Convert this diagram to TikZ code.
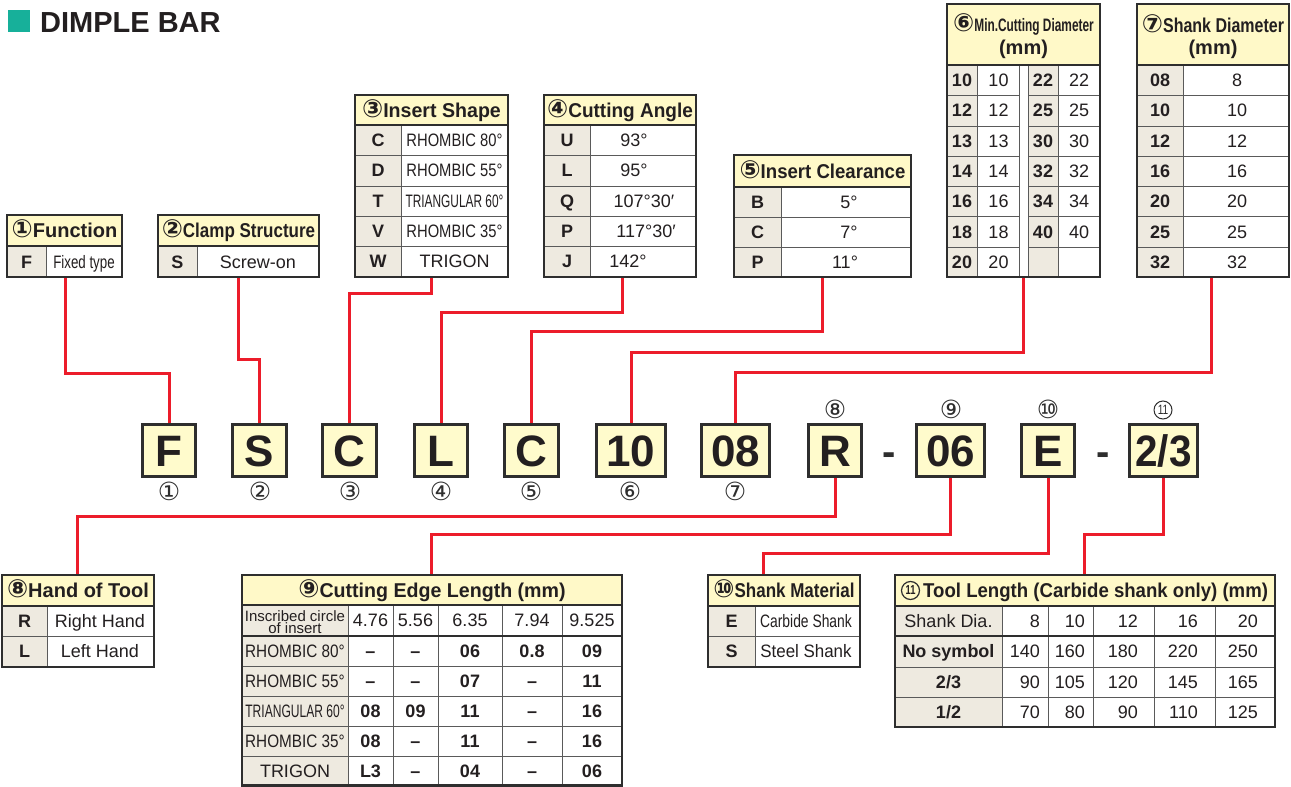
\documentclass[tikz,border=0pt]{standalone}
\usepackage{fontspec}
\usepackage{graphicx}
\setmainfont{Liberation Sans}
\newfontfamily\cn{DejaVu Sans}
\definecolor{hdrY}{HTML}{FFF9C8}
\definecolor{codeG}{HTML}{EEEAE0}
\definecolor{bordC}{HTML}{2E2E2E}
\definecolor{innC}{HTML}{5A5A5A}
\definecolor{lineR}{HTML}{EC1C2A}
\definecolor{boxY}{HTML}{FFFBCC}
\definecolor{titleT}{HTML}{17B09A}
\definecolor{txtC}{HTML}{231F20}
\newcommand\sx[2]{\scalebox{#1}[1]{#2}}
\newcommand\cc[1]{{\cn\fontsize{25}{25}\selectfont #1}}
\tikzset{
  hdrtxt/.style={font=\fontsize{20}{22}\selectfont\bfseries, text height=14.3pt, text depth=0pt},
  hdrsm/.style={font=\fontsize{18}{20}\selectfont\bfseries, text height=13pt, text depth=0pt},
  btxt/.style={font=\fontsize{18}{20}\selectfont\bfseries, text height=12.9pt, text depth=0pt},
  rtxt/.style={font=\fontsize{18}{20}\selectfont, text height=12.9pt, text depth=0pt},
  smtxt/.style={font=\fontsize{15}{15}\selectfont, text height=10.7pt, text depth=0pt},
  codebox/.style={draw=bordC, line width=2pt, fill=boxY, minimum height=51pt,
    font=\fontsize{44}{44}\selectfont\bfseries, text height=31.5pt, text depth=0pt},
  cnum/.style={font=\cn\fontsize{25}{25}\selectfont, text=bordC, text height=16.5pt, text depth=0pt},
  ccirc/.style={draw=bordC, circle, minimum size=16pt, inner sep=0pt},
  conn/.style={draw=lineR, line width=3pt},
  outl/.style={draw=bordC, line width=2.4pt},
  midl/.style={draw=bordC, line width=1.8pt},
  innl/.style={draw=innC, line width=1pt},
}
% x0,y0,x1,y1,yhead,xsplit,{row lines}
\newcommand\tbl[7]{%
  \fill[hdrY] (#1,#2) rectangle (#3,#5);
  \fill[codeG] (#1,#5) rectangle (#6,#4);
  \foreach \yy in {#7} {\draw[innl] (#1,\yy) -- (#3,\yy);}
  \draw[innl] (#6,#5) -- (#6,#4);
  \draw[outl] (#1,#5) -- (#3,#5);
  \draw[outl] (#1,#2) rectangle (#3,#4);
}
\begin{document}
\begin{tikzpicture}[x=1pt,y=-1pt, every node/.style={inner sep=0pt, text=txtC}]
\useasboundingbox (0,0) rectangle (1291,787);
\fill[white] (0,0) rectangle (1291,787);

% title
\fill[titleT] (8,10) rectangle (30,32);
\node[anchor=base west, font=\fontsize{29}{30}\selectfont\bfseries] (title) at (40,32.5) {DIMPLE BAR};

% ---------- connector end points at the tables ----------
\coordinate (t1b) at (65,277);
\coordinate (t2b) at (238.5,277);
\coordinate (t3b) at (431.5,277);
\coordinate (t4b) at (622,277);
\coordinate (t5b) at (822,277);
\coordinate (t6b) at (1023.5,277);
\coordinate (t7b) at (1211,277);
\coordinate (t8t) at (77,575);
\coordinate (t9t) at (431,575);
\coordinate (t10t) at (763.5,575);
\coordinate (t11t) at (1084,575);

% code boxes
\node[codebox, minimum width=52pt] (bF) at (169,450.5) {F};
\node[codebox, minimum width=53pt] (bS) at (259.5,450.5) {S};
\node[codebox, minimum width=53pt] (bC1) at (349.5,450.5) {C};
\node[codebox, minimum width=52pt] (bL) at (441,450.5) {L};
\node[codebox, minimum width=53pt] (bC2) at (531.5,450.5) {C};
\node[codebox, minimum width=68pt] (b10) at (631,450.5) {10};
\node[codebox, minimum width=67pt] (b08) at (735.5,450.5) {08};
\node[codebox, minimum width=52pt] (bR) at (835,450.5) {R};
\node[codebox, minimum width=67pt] (b06) at (950.5,450.5) {06};
\node[codebox, minimum width=52pt] (bE) at (1048,450.5) {E};
\node[codebox, minimum width=67pt] (b23) at (1163.5,450.5) {\sx{0.92}{2/3}};
\node[anchor=base, font=\fontsize{40}{40}\selectfont\bfseries, text=bordC] (dash1) at (889,465) {-};
\node[anchor=base, font=\fontsize{40}{40}\selectfont\bfseries, text=bordC] (dash2) at (1103,465) {-};

% connectors
\draw[conn] (t1b) -- ++(0,96) -| (bF.north);
\draw[conn] (t2b) -- ++(0,82) -| (bS.north);
\draw[conn] (t3b) -- ++(0,16.5) -| (bC1.north);
\draw[conn] (t4b) -- ++(0,35.5) -| (bL.north);
\draw[conn] (t5b) -- ++(0,54) -| (bC2.north);
\draw[conn] (t6b) -- ++(0,75) -| (b10.north);
\draw[conn] (t7b) -- ++(0,95.5) -| (b08.north);
\draw[conn] (bR.south) -- ++(0,39) -| (t8t);
\draw[conn] (b06.south) -- ++(0,57.5) -| (t9t);
\draw[conn] (bE.south) -- ++(0,76) -| (t10t);
\draw[conn] (b23.south) -- ++(0,57.5) -| (t11t);
% box borders on top of connectors
\foreach \b in {bF,bS,bC1,bL,bC2,b10,b08,bR,b06,bE,b23} {\draw[bordC, line width=2pt] (\b.north west) rectangle (\b.south east);}

% circled numbers
\node[cnum] (n1) at (169,492) {①};
\node[cnum] (n2) at (260,492) {②};
\node[cnum] (n3) at (350,492) {③};
\node[cnum] (n4) at (441,492) {④};
\node[cnum] (n5) at (531,492) {⑤};
\node[cnum] (n6) at (630,492) {⑥};
\node[cnum] (n7) at (735,492) {⑦};
\node[cnum] (n8) at (835,410) {⑧};
\node[cnum] (n9) at (951,410) {⑨};
\node[cnum] (n10) at (1048,410) {⑩};
\node[ccirc, line width=1pt, minimum size=18pt, font=\fontsize{13.5}{13.5}\selectfont, text=bordC] (n11) at (1163,410) {\sx{0.75}{11}};

% ---------- table 1 ----------
\tbl{7}{215}{122}{277}{246}{46}{277}
\node[hdrtxt] (h1) at (64.5,230.5) {\cc{①}Function};
\node[btxt] (c1) at (26.5,262) {F};
\node[rtxt] (v1) at (84,262) {\sx{0.74}{Fixed type}};

% ---------- table 2 ----------
\tbl{158}{215}{319}{277}{246}{197}{277}
\node[hdrtxt] (h2) at (238.5,230.5) {\cc{②}\sx{0.85}{Clamp Structure}};
\node[btxt] (c2) at (177.5,262) {S};
\node[rtxt] (v2) at (258,262) {Screw-on};

% ---------- table 3 ----------
\tbl{355}{95}{508}{277}{125}{401}{155,186,216,246}
\node[hdrtxt] (h3) at (431.5,110) {\cc{③}\sx{0.98}{Insert Shape}};
\node[btxt] (c3a) at (378,140) {C};
\node[btxt] (c3b) at (378,170.5) {D};
\node[btxt] (c3c) at (378,201) {T};
\node[btxt] (c3d) at (378,231) {V};
\node[btxt] (c3e) at (378,261.5) {W};
\node[rtxt] (v3a) at (454.5,140) {\sx{0.82}{RHOMBIC 80°}};
\node[rtxt] (v3b) at (454.5,170.5) {\sx{0.82}{RHOMBIC 55°}};
\node[rtxt] (v3c) at (454.5,201) {\sx{0.66}{TRIANGULAR 60°}};
\node[rtxt] (v3d) at (454.5,231) {\sx{0.82}{RHOMBIC 35°}};
\node[rtxt] (v3e) at (454.5,261.5) {TRIGON};

% ---------- table 4 ----------
\tbl{544}{95}{696}{277}{125}{590}{155,186,216,246}
\node[hdrtxt] (h4) at (620,110) {\cc{④}\sx{0.95}{Cutting Angle}};
\node[btxt] (c4a) at (567,140) {U};
\node[btxt] (c4b) at (567,170.5) {L};
\node[btxt] (c4c) at (567,201) {Q};
\node[btxt] (c4d) at (567,231) {P};
\node[btxt] (c4e) at (567,261.5) {J};
\node[rtxt] (v4a) at (634,140) {93°};
\node[rtxt] (v4b) at (634,170.5) {95°};
\node[rtxt] (v4c) at (644,201) {107°30′};
\node[rtxt] (v4d) at (646,231) {117°30′};
\node[rtxt] (v4e) at (628,261.5) {142°};

% ---------- table 5 ----------
\tbl{734}{155}{911}{277}{187}{781}{217,247}
\node[hdrtxt] (h5) at (822.5,171) {\cc{⑤}\sx{0.93}{Insert Clearance}};
\node[btxt] (c5a) at (757.5,202) {B};
\node[btxt] (c5b) at (757.5,232) {C};
\node[btxt] (c5c) at (757.5,262) {P};
\node[rtxt] (v5a) at (849,202) {5°};
\node[rtxt] (v5b) at (849,232) {7°};
\node[rtxt] (v5c) at (845,262) {11°};

% ---------- table 6 ----------
\fill[hdrY] (947,4) rectangle (1100,65);
\fill[codeG] (947,65) rectangle (977.5,277);
\fill[codeG] (1028,65) rectangle (1058,277);
\foreach \yy in {95.5,126,156,186,216,247} {\draw[innl] (947,\yy) -- (1019.5,\yy); \draw[innl] (1028,\yy) -- (1100,\yy);}
\foreach \xx in {977.5,1019.5,1028,1058} {\draw[innl] (\xx,65) -- (\xx,277);}
\draw[outl] (947,65) -- (1100,65);
\draw[outl] (947,4) rectangle (1100,277);
\node[hdrsm] (h6a) at (1023.5,25) {\cc{⑥}\sx{0.66}{Min.Cutting Diameter}};
\node[hdrtxt] (h6b) at (1023.5,47) {(mm)};
\foreach \v/\w [count=\i] in {10/22,12/25,13/30,14/32,16/34,18/40,20/} {
  \pgfmathsetmacro\yc{80+(\i-1)*30.33}
  \node[btxt] (c6l\i) at (962,\yc) {\v};
  \node[rtxt] (v6l\i) at (998.5,\yc) {\v};
  \node[btxt] (c6r\i) at (1043,\yc) {\w};
  \node[rtxt] (v6r\i) at (1079,\yc) {\w};
}

% ---------- table 7 ----------
\tbl{1137}{4}{1289}{277}{65}{1183}{95.5,126,156,186,216,247}
\node[hdrtxt] (h7a) at (1213,25) {\cc{⑦}\sx{0.8}{Shank Diameter}};
\node[hdrtxt] (h7b) at (1213,47) {(mm)};
\foreach \c/\v [count=\i] in {08/8,10/10,12/12,16/16,20/20,25/25,32/32} {
  \pgfmathsetmacro\yc{80+(\i-1)*30.33}
  \node[btxt] (c7\i) at (1160,\yc) {\c};
  \node[rtxt] (v7\i) at (1237,\yc) {\v};
}

% ---------- table 8 ----------
\tbl{2}{575}{154}{667}{606}{47}{636}
\node[hdrtxt] (h8) at (78,590.5) {\cc{⑧}Hand of Tool};
\node[btxt] (c8a) at (24.5,621) {R};
\node[btxt] (c8b) at (24.5,651.5) {L};
\node[rtxt] (v8a) at (100,621) {Right Hand};
\node[rtxt] (v8b) at (100,651.5) {Left Hand};

% ---------- table 9 ----------
\fill[hdrY] (242,575) rectangle (622,605);
\fill[codeG] (242,605) rectangle (348,785.5);
\foreach \yy in {666,696,726,756} {\draw[innl] (242,\yy) -- (622,\yy);}
\foreach \xx in {348,393,438,502,562} {\draw[innl] (\xx,605) -- (\xx,785.5);}
\draw[outl] (242,605) -- (622,605);
\draw[midl] (242,636) -- (622,636);
\draw[outl] (242,575) rectangle (622,785.5);
\node[hdrtxt] (h9) at (432,590) {\cc{⑨}\sx{0.98}{Cutting Edge Length (mm)}};
\node[smtxt] (ins1) at (295,616) {Inscribed circle};
\node[smtxt] (ins2) at (295,628.5) {of insert};
\node[rtxt] (d1) at (370.5,620.5) {4.76};
\node[rtxt] (d2) at (415.5,620.5) {5.56};
\node[rtxt] (d3) at (470,620.5) {6.35};
\node[rtxt] (d4) at (532,620.5) {7.94};
\node[rtxt] (d5) at (592,620.5) {9.525};
\foreach \lab/\a/\b/\c/\d/\e [count=\i] in {
  {\sx{0.85}{RHOMBIC 80°}}/–/–/06/0.8/09,
  {\sx{0.85}{RHOMBIC 55°}}/–/–/07/–/11,
  {\sx{0.67}{TRIANGULAR 60°}}/08/09/11/–/16,
  {\sx{0.85}{RHOMBIC 35°}}/08/–/11/–/16,
  {TRIGON}/L3/–/04/–/06} {
  \pgfmathsetmacro\yc{651+(\i-1)*30}
  \node[rtxt] (r9l\i) at (295,\yc) {\lab};
  \node[btxt] (r9a\i) at (370.5,\yc) {\a};
  \node[btxt] (r9b\i) at (415.5,\yc) {\b};
  \node[btxt] (r9c\i) at (470,\yc) {\c};
  \node[btxt] (r9d\i) at (532,\yc) {\d};
  \node[btxt] (r9e\i) at (592,\yc) {\e};
}

% ---------- table 10 ----------
\tbl{708}{575}{860}{667}{606}{755}{636}
\node[hdrtxt] (h10) at (784,590.5) {\cc{⑩}\sx{0.85}{Shank Material}};
\node[btxt] (c10a) at (731.5,621) {E};
\node[btxt] (c10b) at (731.5,651.5) {S};
\node[rtxt] (v10a) at (806,621) {\sx{0.77}{Carbide Shank}};
\node[rtxt] (v10b) at (806,651.5) {\sx{0.94}{Steel Shank}};

% ---------- table 11 ----------
\fill[hdrY] (895,575) rectangle (1275,606);
\fill[codeG] (895,606) rectangle (1002,727);
\foreach \yy in {667,697} {\draw[innl] (895,\yy) -- (1275,\yy);}
\foreach \xx in {1002,1048,1093,1154,1215} {\draw[innl] (\xx,606) -- (\xx,727);}
\draw[outl] (895,606) -- (1275,606);
\draw[midl] (895,636) -- (1275,636);
\draw[outl] (895,575) rectangle (1275,727);
\node[ccirc, line width=1.2pt, minimum size=18pt, font=\fontsize{13}{13}\selectfont\bfseries] (h11c) at (910.5,590.5) {\sx{0.72}{11}};
\node[hdrtxt, anchor=west] (h11) at (923,590.5) {\sx{0.93}{Tool Length (Carbide shank only) (mm)}};
\node[rtxt] (l11a) at (948.5,621) {Shank Dia.};
\node[btxt] (l11b) at (948.5,651.5) {No symbol};
\node[btxt] (l11c) at (948.5,682) {2/3};
\node[btxt] (l11d) at (948.5,712) {1/2};
\foreach \a/\b/\c/\d/\e/\yc [count=\i] in {8/10/12/16/20/621, 140/160/180/220/250/651.5, 90/105/120/145/165/682, 70/80/90/110/125/712} {
  \node[rtxt, anchor=east] (t11a\i) at (1040,\yc) {\a};
  \node[rtxt, anchor=east] (t11b\i) at (1085,\yc) {\b};
  \node[rtxt, anchor=east] (t11c\i) at (1138,\yc) {\c};
  \node[rtxt, anchor=east] (t11d\i) at (1198,\yc) {\d};
  \node[rtxt, anchor=east] (t11e\i) at (1258,\yc) {\e};
}
\end{tikzpicture}
\end{document}
